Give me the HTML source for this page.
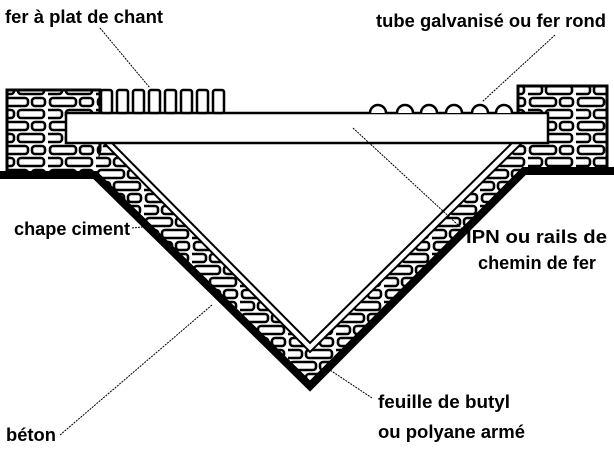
<!DOCTYPE html>
<html><head><meta charset="utf-8"><style>
html,body{margin:0;padding:0;background:#fff;width:614px;height:449px;overflow:hidden}
svg{display:block}
text{font-family:"Liberation Sans",sans-serif;font-size:18px;font-weight:bold;fill:#000}
</style></head><body>
<svg width="614" height="449" viewBox="0 0 614 449" xmlns="http://www.w3.org/2000/svg">
<defs>
<pattern id="st" width="48" height="24" patternUnits="userSpaceOnUse">
<rect width="48" height="24" fill="#fff"/>
<rect x="2" y="2" width="26" height="8" rx="3" fill="none" stroke="#000" stroke-width="2.6"/>
<rect x="32" y="2" width="13" height="8" rx="3" fill="none" stroke="#000" stroke-width="2.6"/>
<rect x="-8" y="14" width="22" height="8" rx="3" fill="none" stroke="#000" stroke-width="2.6"/>
<rect x="18" y="14" width="26" height="8" rx="3" fill="none" stroke="#000" stroke-width="2.6"/>
</pattern>
</defs>
<rect x="7" y="90" width="93" height="83" fill="url(#st)" stroke="#000" stroke-width="3"/>
<rect x="518" y="86" width="89" height="83" fill="url(#st)" stroke="#000" stroke-width="3"/>
<polygon points="93,176 310,388 528,170 520,143 104,143" fill="url(#st)"/>
<polyline points="0,175 95,175 310,386 524,171 614,171" fill="none" stroke="#000" stroke-width="8" stroke-linejoin="miter"/>
<polygon points="104,143 310,352 522,143" fill="#fff" stroke="#000" stroke-width="2"/>
<polygon points="112,143 310,343 512,143" fill="#fff" stroke="#000" stroke-width="2"/>
<rect x="66" y="113" width="482" height="30" fill="#fff" stroke="#000" stroke-width="2.5"/>
<g fill="#fff" stroke="#000" stroke-width="2.5">
<rect x="101" y="90" width="11" height="23" rx="2"/>
<rect x="117" y="90" width="11" height="23" rx="2"/>
<rect x="133" y="90" width="11" height="23" rx="2"/>
<rect x="149" y="90" width="11" height="23" rx="2"/>
<rect x="165" y="90" width="11" height="23" rx="2"/>
<rect x="181" y="90" width="11" height="23" rx="2"/>
<rect x="197" y="90" width="11" height="23" rx="2"/>
<rect x="213" y="90" width="11" height="23" rx="2"/>
</g>
<g fill="#fff" stroke="#000" stroke-width="2.5">
<path d="M370,113 a8,8 0 0 1 16,0"/>
<path d="M397,113 a8,8 0 0 1 16,0"/>
<path d="M421,113 a8,8 0 0 1 16,0"/>
<path d="M446,113 a8,8 0 0 1 16,0"/>
<path d="M472,113 a8,8 0 0 1 16,0"/>
<path d="M496,113 a8,8 0 0 1 16,0"/>
</g>
<g stroke="#000" stroke-width="1" fill="none" stroke-dasharray="2,1">
<line x1="100" y1="28" x2="150" y2="88"/>
<line x1="555" y1="35" x2="482" y2="102"/>
<line x1="353" y1="128" x2="470" y2="236"/>
<line x1="132" y1="228" x2="152" y2="226"/>
<line x1="60" y1="435" x2="212" y2="305"/>
<line x1="372" y1="398" x2="330" y2="370"/>
</g>
<g>
<text x="5" y="23" textLength="158" lengthAdjust="spacingAndGlyphs">fer à plat de chant</text>
<text x="376" y="27" textLength="230" lengthAdjust="spacingAndGlyphs">tube galvanisé ou fer rond</text>
<text x="14" y="235" textLength="116" lengthAdjust="spacingAndGlyphs">chape ciment</text>
<text x="466" y="243" textLength="141" lengthAdjust="spacingAndGlyphs">IPN ou rails de</text>
<text x="478" y="269" textLength="118" lengthAdjust="spacingAndGlyphs">chemin de fer</text>
<text x="378" y="408" textLength="132" lengthAdjust="spacingAndGlyphs">feuille de butyl</text>
<text x="378" y="438" textLength="147" lengthAdjust="spacingAndGlyphs">ou polyane armé</text>
<text x="6" y="441" textLength="50" lengthAdjust="spacingAndGlyphs">béton</text>
</g>
</svg>
</body></html>
